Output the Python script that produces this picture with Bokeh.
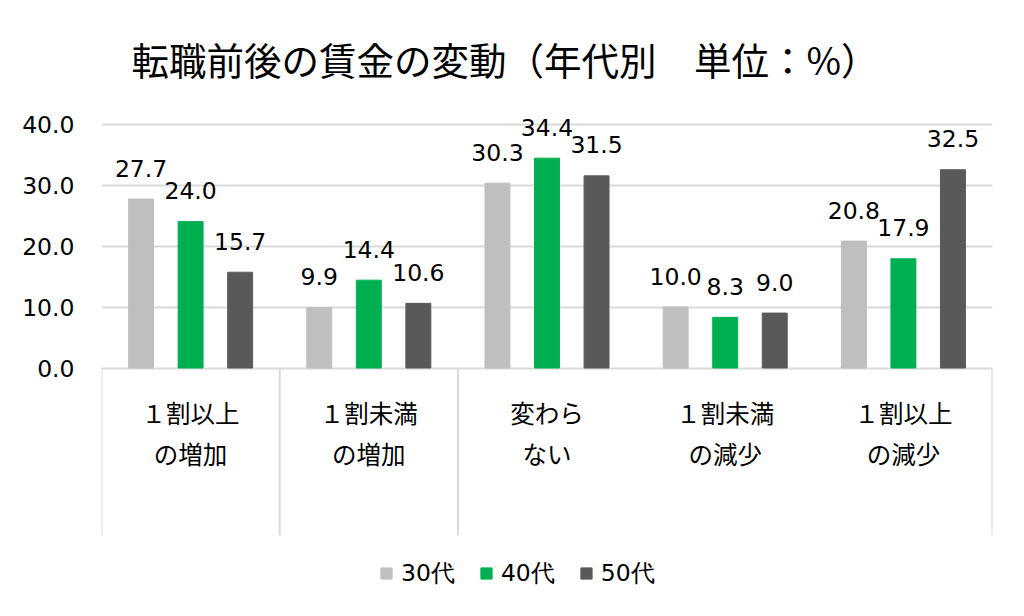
from bokeh.plotting import figure
from bokeh.models import (ColumnDataSource, FactorRange, Range1d, FixedTicker,
                          Legend, LegendItem, NumeralTickFormatter)
from bokeh.transform import dodge
from bokeh.core.properties import value
from bokeh.embed import file_html
from bokeh.resources import INLINE

# ---- data ----
title_text = "転職前後の賃金の変動（年代別　単位：%）"
categories = ["１割以上\nの増加", "１割未満\nの増加", "変わら\nない", "１割未満\nの減少", "１割以上\nの減少"]
series_names = ["30代", "40代", "50代"]
v30 = [27.7, 9.9, 30.3, 10.0, 20.8]
v40 = [24.0, 14.4, 34.4, 8.3, 17.9]
v50 = [15.7, 10.6, 31.5, 9.0, 32.5]
y_ticks = [0, 10, 20, 30, 40]
separator_positions = [0, 1, 2, 5]   # category boundaries (group separators)

colors = ["#BFBFBF", "#00B050", "#595959"]
NUM_FONT = "DejaVu Sans"
CJK_FONT = "Noto Sans CJK JP"

W, H = 1008, 600
LEFT, RIGHT = 101, 16
Y0_PX = 367.5       # pixel row of value 0 (from top)
PX_PER_UNIT = 6.1

y_end = Y0_PX / PX_PER_UNIT
y_start = -(H - Y0_PX) / PX_PER_UNIT


def ypx(px):
    """data value for a pixel row (from top)"""
    return (Y0_PX - px) / PX_PER_UNIT


p = figure(width=W, height=H, output_backend="svg", toolbar_location=None,
           x_range=FactorRange(factors=categories, range_padding=0, factor_padding=0),
           y_range=Range1d(y_start, y_end),
           min_border_left=LEFT, min_border_right=RIGHT,
           min_border_top=0, min_border_bottom=0)
p.outline_line_color = None
p.background_fill_color = "white"
p.border_fill_color = "white"
p.xaxis.visible = False
p.xgrid.visible = False

# y axis
yax = p.yaxis[0]
yax.ticker = FixedTicker(ticks=y_ticks)
yax.formatter = NumeralTickFormatter(format="0.0")
yax.axis_line_color = None
yax.major_tick_line_color = None
yax.minor_tick_line_color = None
yax.major_label_standoff = 21
yax.major_label_text_font = NUM_FONT
yax.major_label_text_font_size = "23.5px"
yax.major_label_text_color = "black"

p.ygrid.ticker = FixedTicker(ticks=y_ticks)
p.ygrid.grid_line_color = "#D9D9D9"
p.ygrid.grid_line_width = 2

src = ColumnDataSource(dict(cat=categories, v30=v30, v40=v40, v50=v50,
                            l30=[f"{v:.1f}" for v in v30],
                            l40=[f"{v:.1f}" for v in v40],
                            l50=[f"{v:.1f}" for v in v50]))

offsets = [-0.278, 0.0, 0.278]
fields = ["v30", "v40", "v50"]
lfields = ["l30", "l40", "l50"]
renderers = []
for off, f, lf, c in zip(offsets, fields, lfields, colors):
    r = p.vbar(x=dodge("cat", off, range=p.x_range), top=f, width=0.14, source=src,
               fill_color=c, line_color=c)
    renderers.append(r)
    p.text(x=dodge("cat", off, range=p.x_range), y=f, text=lf, source=src,
           text_align="center", text_baseline="middle", y_offset=-31,
           text_font=value(NUM_FONT), text_font_size="23.5px", text_color="black")

# separators under the category axis
p.segment(x0=separator_positions, x1=separator_positions,
          y0=[0] * len(separator_positions), y1=[ypx(535)] * len(separator_positions),
          line_color="#D9D9D9", line_width=2)

# category labels (two lines)
line1 = [c.split("\n")[0] for c in categories]
line2 = [c.split("\n")[1] for c in categories]
lab_src = ColumnDataSource(dict(cat=categories, l1=line1, l2=line2))
p.text(x="cat", y=ypx(412), text="l1", source=lab_src,
       text_align="center", text_baseline="middle",
       text_font=value(CJK_FONT), text_font_size="24.5px", text_color="black")
p.text(x="cat", y=ypx(453), text="l2", source=lab_src,
       text_align="center", text_baseline="middle",
       text_font=value(CJK_FONT), text_font_size="24.5px", text_color="black")

# title
p.text(x=[2.5], y=[ypx(58)], text=[title_text], x_offset=-42,
       text_align="center", text_baseline="middle",
       text_font=value(CJK_FONT), text_font_size="37.5px", text_color="black")

# legend
legend = Legend(items=[LegendItem(label=n, renderers=[r]) for n, r in zip(series_names, renderers)],
                orientation="horizontal", location=(278, 11),
                glyph_width=14, glyph_height=14, label_standoff=8, spacing=24,
                label_height=24, padding=0, margin=0,
                border_line_color=None, background_fill_alpha=0,
                label_text_font=NUM_FONT, label_text_font_size="23.5px",
                label_text_color="black")
p.add_layout(legend)

open("out.html", "w").write(file_html(p, INLINE))
